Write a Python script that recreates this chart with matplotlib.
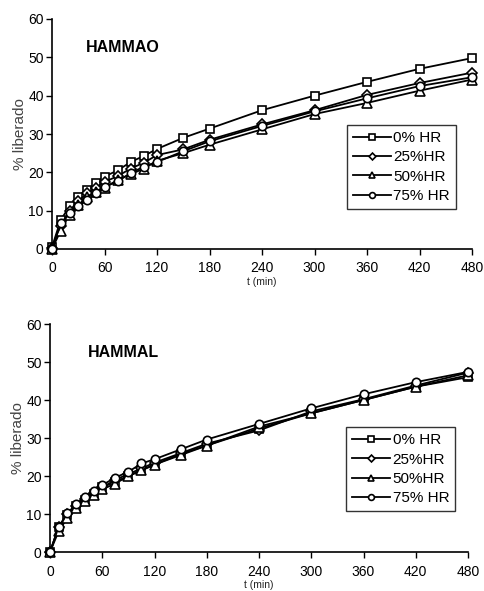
import matplotlib
matplotlib.use("Agg")
import matplotlib.pyplot as plt

plt.rcParams['font.family'] = ['Liberation Sans', 'DejaVu Sans']
narrow = ['Liberation Sans Narrow', 'Liberation Sans', 'DejaVu Sans']

t = [0, 10, 20, 30, 40, 50, 60, 75, 90, 105, 120, 150, 180, 240, 300, 360, 420, 480]
labels = ["0% HR", "25%HR", "50%HR", "75% HR"]
markers = ["s", "D", "^", "o"]

# HAMMAO
mao_0 = [0.5, 7.6, 11.1, 13.6, 15.5, 17.1, 18.9, 20.5, 22.7, 24.3, 26.1, 29.0, 31.4, 36.2, 40.0, 43.6, 47.0, 49.8]
mao_25 = [0.3, 6.0, 10.0, 12.5, 14.5, 16.0, 17.5, 19.0, 21.0, 22.5, 24.5, 26.0, 28.5, 32.5, 36.2, 40.2, 43.3, 46.0]
mao_50 = [0.0, 4.8, 9.0, 11.5, 13.5, 15.0, 16.0, 18.0, 19.5, 21.0, 23.0, 25.0, 27.2, 31.2, 35.2, 38.1, 41.3, 44.2]
mao_75 = [0.0, 6.7, 9.3, 11.1, 12.7, 14.5, 16.1, 17.7, 19.8, 21.5, 22.7, 25.5, 28.1, 32.1, 35.9, 39.3, 42.5, 44.8]

# HAMMAL
mal_0 = [0.0, 6.5, 9.8, 12.2, 13.8, 15.2, 17.0, 18.5, 20.0, 21.5, 23.0, 25.8, 28.0, 32.5, 36.5, 40.0, 43.5, 46.0]
mal_25 = [0.0, 6.5, 10.0, 12.0, 14.0, 15.5, 17.0, 19.0, 20.5, 22.0, 23.5, 26.0, 28.5, 32.0, 37.0, 40.2, 43.8, 47.2]
mal_50 = [0.0, 5.5, 9.0, 11.5, 13.5, 15.0, 16.5, 18.0, 20.0, 21.5, 23.0, 25.5, 28.0, 33.0, 36.5, 40.0, 43.5, 46.5]
mal_75 = [0.0, 6.7, 10.2, 12.6, 14.6, 16.1, 17.6, 19.6, 21.1, 23.3, 24.4, 27.0, 29.6, 33.7, 37.8, 41.5, 44.7, 47.4]

fig = plt.figure(figsize=(4.84, 5.91), dpi=100)
ax1 = fig.add_axes([52/484, 1-249/591, 420/484, 230/591])
ax2 = fig.add_axes([50/484, 1-552/591, 418/484, 228/591])

def draw(ax, series, title, tx, ty, lx, ly):
    msz = {"s": 6.0, "D": 5.0, "^": 6.5, "o": 6.0}
    for y, m, lab in zip(series, markers, labels):
        ax.plot(t, y, color='black', lw=1.3, marker=m, markersize=msz[m],
                markerfacecolor='white', markeredgecolor='black', markeredgewidth=1.2,
                label=lab, clip_on=False, zorder=3)
    ax.set_xlim(0, 480)
    ax.set_ylim(0, 60)
    ax.set_xticks([0, 60, 120, 180, 240, 300, 360, 420, 480])
    ax.set_yticks([0, 10, 20, 30, 40, 50, 60])
    ax.spines['top'].set_visible(False)
    ax.spines['right'].set_visible(False)
    ax.spines['left'].set_linewidth(1.2)
    ax.spines['bottom'].set_linewidth(1.2)
    ax.tick_params(direction='out', length=4, width=1, labelsize=10, colors='black')
    ax.tick_params(axis='x', pad=5)
    ax.tick_params(axis='y', pad=2)
    ax.set_ylabel('% liberado', fontsize=11, color='#444444', labelpad=1)
    ax.set_xlabel('t (min)', fontsize=7.5, labelpad=1, color='#222222', family=narrow)
    ax.text(tx, ty, title, transform=ax.transAxes, fontsize=11.5, fontweight='bold', va='center')
    leg = ax.legend(loc='upper left', bbox_to_anchor=(lx, ly), frameon=True, fancybox=False,
                    edgecolor='black', prop={'family': narrow, 'size': 11}, handlelength=2.5,
                    handletextpad=0.15, borderpad=0.4, labelspacing=0.35, borderaxespad=0,
                    markerscale=0.7)
    leg.get_frame().set_linewidth(1.0)

draw(ax1, [mao_0, mao_25, mao_50, mao_75], 'HAMMAO', 0.081, 0.874, 0.702, 0.539)
draw(ax2, [mal_0, mal_25, mal_50, mal_75], 'HAMMAL', 0.091, 0.877, 0.708, 0.548)

fig.savefig('out.png', dpi=100)
